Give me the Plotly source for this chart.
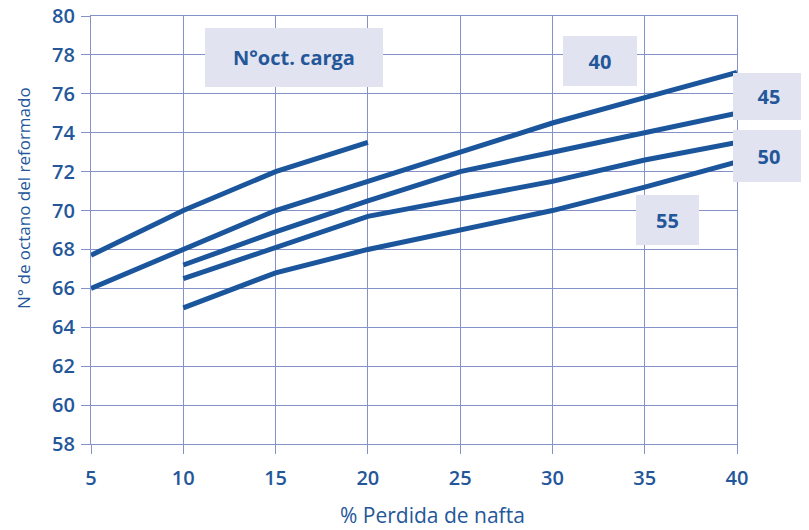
import plotly.graph_objects as go

# Data
x_a = [5, 10, 15, 20]
y_a = [67.7, 70.0, 72.0, 73.5]

x_b = [5, 10, 15, 20, 25, 30, 35, 40]
y_b = [66.0, 68.0, 70.0, 71.5, 73.0, 74.5, 75.8, 77.1]

x_c = [10, 15, 20, 25, 30, 35, 40]
y_c = [67.2, 68.9, 70.5, 72.0, 73.0, 74.0, 75.0]

x_d = [10, 15, 20, 25, 30, 35, 40]
y_d = [66.5, 68.1, 69.7, 70.6, 71.5, 72.6, 73.5]

x_e = [10, 15, 20, 25, 30, 35, 40]
y_e = [65.0, 66.8, 68.0, 69.0, 70.0, 71.2, 72.5]

x_ticks = [5, 10, 15, 20, 25, 30, 35, 40]
y_ticks = [58, 60, 62, 64, 66, 68, 70, 72, 74, 76, 78, 80]

box_labels = ["N°oct. carga", "40", "45", "50", "55"]

LINE = "#1b569c"
TEXT = "#24579a"
GRID = "#8492c9"
BOX = "#e1e4f0"
FONT = "Open Sans"

# page body has an 8px default margin, so the figure is 8px smaller
OFF = 8
PW, PH = 809, 530
W, H = PW - OFF, PH - OFF
L, R, T, B = 91, 737, 16, 444   # plot area in page pixels

fig = go.Figure()
for xs, ys in [(x_a, y_a), (x_b, y_b), (x_c, y_c), (x_d, y_d), (x_e, y_e)]:
    fig.add_trace(go.Scatter(x=xs, y=ys, mode="lines",
                             line=dict(color=LINE, width=5),
                             showlegend=False, hoverinfo="skip"))

def px2paper(px, py):
    return (px - L) / (R - L), (B - py) / (B - T)

# box geometry (center px, width, height)
boxes = [
    (294, 57.5, 178, 59),
    (600, 61, 74, 50),
    (769, 96.5, 72, 47),
    (769, 156, 72, 52),
    (667.5, 220, 63, 50),
]
for text, (cx, cy, bw, bh) in zip(box_labels, boxes):
    xp, yp = px2paper(cx, cy)
    fig.add_annotation(x=xp, y=yp, xref="paper", yref="paper",
                       text=text, showarrow=False,
                       xanchor="center", yanchor="middle",
                       width=bw, height=bh, bgcolor=BOX,
                       borderpad=0, borderwidth=0,
                       font=dict(family=FONT, size=20, color=TEXT, weight=700))

# axis titles
xp, yp = px2paper(432, 515)
fig.add_annotation(x=xp, y=yp, xref="paper", yref="paper",
                   text="% Perdida de nafta", showarrow=False,
                   xanchor="center", yanchor="middle",
                   font=dict(family=FONT, size=21, color=TEXT))
xp, yp = px2paper(23, 198)
fig.add_annotation(x=xp, y=yp, xref="paper", yref="paper",
                   text="N° de octano del reformado", showarrow=False,
                   textangle=-90, xanchor="center", yanchor="middle",
                   font=dict(family=FONT, size=17, color=TEXT))

axis_common = dict(showgrid=True, gridcolor=GRID, gridwidth=1.2,
                   showline=True, linecolor=GRID, linewidth=1.2, mirror=True,
                   ticks="outside", ticklen=9, tickcolor=GRID, tickwidth=1.2,
                   zeroline=False, automargin=False, ticklabeloverflow="allow",
                   tickfont=dict(family=FONT, size=20, color=TEXT, weight=600))

fig.update_xaxes(range=[5, 40], tickvals=x_ticks, ticklabelstandoff=7, **axis_common)
fig.update_yaxes(range=[58, 80], tickvals=y_ticks, ticklabelstandoff=2, **axis_common)

fig.update_layout(width=W, height=H,
                  margin=dict(l=L - OFF, r=PW - R, t=T - OFF, b=PH - B, pad=0),
                  plot_bgcolor="white", paper_bgcolor="white")

fig.write_html("out.html")
